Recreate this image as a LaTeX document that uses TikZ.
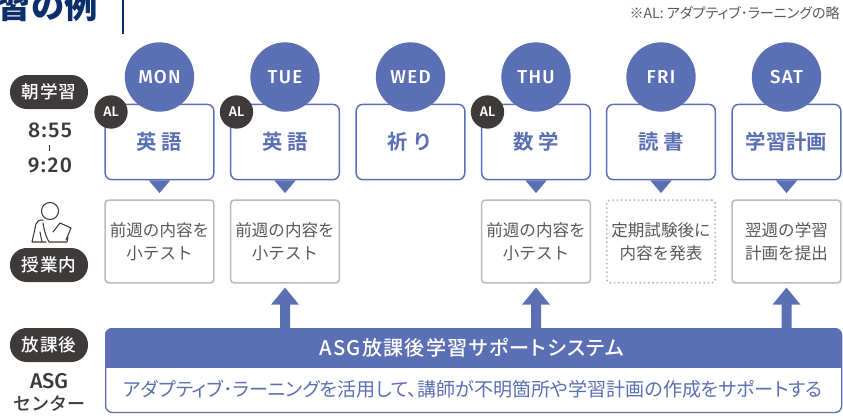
\documentclass[tikz,border=0pt]{standalone}
\usepackage{fontspec}
\usetikzlibrary{calc}
\setmainfont{Noto Sans CJK JP}
\newfontfamily\cjkbold{Noto Sans CJK JP Bold}
\newfontfamily\cjkblack{Noto Sans CJK JP Black}
\newfontfamily\cjkmed[LetterSpace=4]{Noto Sans CJK JP Medium}
\newfontfamily\cjkplain{Noto Sans CJK JP Medium}
\newfontfamily\cjkreg{Noto Sans CJK JP}
\newfontfamily\cjkpalt[RawFeature=+palt]{Noto Sans CJK JP}
\newfontfamily\cjkbar[RawFeature=+palt,LetterSpace=6]{Noto Sans CJK JP Medium}
\newfontfamily\latin[LetterSpace=7]{Fira Sans Medium}
\newfontfamily\latinp{Fira Sans Medium}
\definecolor{bl}{HTML}{5B6FB4}
\definecolor{dk}{HTML}{3E3A39}
\definecolor{gy}{HTML}{BBBBBB}
\definecolor{navy}{HTML}{0B2F6B}
\tikzset{
 x=0.75pt,y=-0.75pt,
 pill/.style={fill=dk,text=white,rounded corners=12.5pt,minimum width=58.5pt,minimum height=25.5pt,inner sep=0pt,font=\cjkmed\fontsize{13.2}{13.2}\selectfont},
 day/.style={circle,fill=bl,text=white,minimum size=52pt,inner sep=0pt,font=\latin\fontsize{14}{14}\selectfont},
 alc/.style={circle,fill=dk,text=white,minimum size=25pt,inner sep=0pt,font=\latinp\fontsize{10.5}{10.5}\selectfont},
 subj/.style={draw=bl,line width=1.1pt,fill=white,rounded corners=5pt,minimum width=81.5pt,minimum height=56.5pt,inner sep=0pt,text=bl,font=\cjkbold\fontsize{15.3}{15.3}\selectfont},
 note/.style={draw=gy,line width=1.2pt,fill=white,rounded corners=2.5pt,minimum width=81.5pt,minimum height=62pt,inner sep=0pt,align=center,text=dk!85,font=\cjkreg\fontsize{12.4}{17}\selectfont},
 dnote/.style={note,dotted,line width=1.3pt},
 tri/.style={fill=bl},
 up/.style={fill=bl},
 lab/.style={text=dk,align=center,inner sep=0pt},
}
\begin{document}
\begin{tikzpicture}
\useasboundingbox (0,0) rectangle (843,419);
\clip (0,0) rectangle (843,419);
\fill[white] (0,0) rectangle (843,419);
% title
\node[anchor=east,inner sep=0pt,text=navy,font=\cjkblack\fontsize{25}{25}\selectfont] (title) at (98,6) {習の例};
\draw[navy,line width=1pt] (123,0) -- (123,34);
\node[anchor=east,inner sep=0pt,text=dk!85,font=\cjkpalt\fontsize{10.55}{10.55}\selectfont] (alnote) at (840,13) {※AL: アダプティブ･ラーニングの略};
% pills
\node[pill] (p1) at (49,92) {朝学習};
\node[lab,font=\latin\fontsize{16}{16}\selectfont] (t1) at (50,130) {8:55};
\node[lab,font=\latin\fontsize{16}{16}\selectfont] (t2) at (50,165) {9:20};
\draw[dk,line width=0.6pt] (49,145) -- (49,151);
\node[pill] (p2) at (49,265) {授業内};
\node[pill] (p3) at (49,345) {放課後};
\node[lab,font=\latinp\fontsize{16}{16}\selectfont] (asg1) at (49,381) {ASG};
\node[lab,font=\cjkplain\fontsize{13.5}{13.5}\selectfont] (asg2) at (49,404) {センター};
% person icon
\begin{scope}[dk,line width=0.8pt,line join=round,line cap=round]
\draw (50,211) circle [radius=6.4pt];
\draw (43,220) .. controls (39,220) and (37,221) .. (36,224) -- (32,242) -- (46,242);
\draw (43,223) .. controls (44,230) and (46,237) .. (49,242) -- (67,242) -- (68,237);
\draw (53,232) -- (60,223) -- (71,228) -- (66,240);
\draw (40,232) -- (42,242);
\end{scope}
% subjects
\foreach \n/\x/\d/\s in {a/159.5/MON/英 語,b/285/TUE/英 語,c/410.5/WED/祈 り,d/536/THU/数 学,e/661/FRI/読 書,f/786.5/SAT/学習計画}{
  \node[subj] (s\n) at (\x,142) {\s};
  \node[day] (c\n) at (\x,77) {\d};
}
\foreach \n in {a,b,d,e,f}{
  \fill[tri] ([xshift=-8pt]s\n.south) -- ([xshift=8pt]s\n.south) -- ([yshift=-9.5pt]s\n.south) -- cycle;
}
\foreach \n/\x in {a/111,b/236.5,d/487.5}{
  \node[alc] (al\n) at (\x,112) {AL};
}
% notes
\node[note] (na) at (159.5,241.5) {前週の内容を\\小テスト};
\node[note] (nb) at (285,241.5) {前週の内容を\\小テスト};
\node[note] (nd) at (536,241.5) {前週の内容を\\小テスト};
\node[dnote] (ne) at (661,241.5) {定期試験後に\\内容を発表};
\node[note] (nf) at (786.5,241.5) {翌週の学習\\計画を提出};
% bar
\node[draw=bl,line width=1pt,fill=white,rounded corners=5pt,minimum width=552pt,minimum height=62.5pt,inner sep=0pt,anchor=north west] (bar) at (105,328.5) {};
\begin{scope}
\clip[rounded corners=5pt] (105,328) rectangle (842,412);
\fill[bl] (105,328) rectangle (842,368);
\end{scope}
\node[text=white,inner sep=0pt,font=\cjkbar\fontsize{15.1}{15.1}\selectfont] (bart) at (472,348) {ASG放課後学習サポートシステム};
\node[text=bl,inner sep=0pt,font=\cjkpalt\fontsize{14.3}{14.3}\selectfont] (bars) at (473,389) {アダプティブ･ラーニングを活用して、講師が不明箇所や学習計画の作成をサポートする};
% arrows
\foreach \n in {b,d,f}{
  \coordinate (tip) at ($(n\n.south)+(0,4)$);
  \fill[up] (tip) -- ($(tip)+(14,17)$) -- ($(tip)+(5,17)$) -- ($(tip)+(5,41)$) -- ($(tip)+(-5,41)$) -- ($(tip)+(-5,17)$) -- ($(tip)+(-14,17)$) -- cycle;
}
\end{tikzpicture}
\end{document}
